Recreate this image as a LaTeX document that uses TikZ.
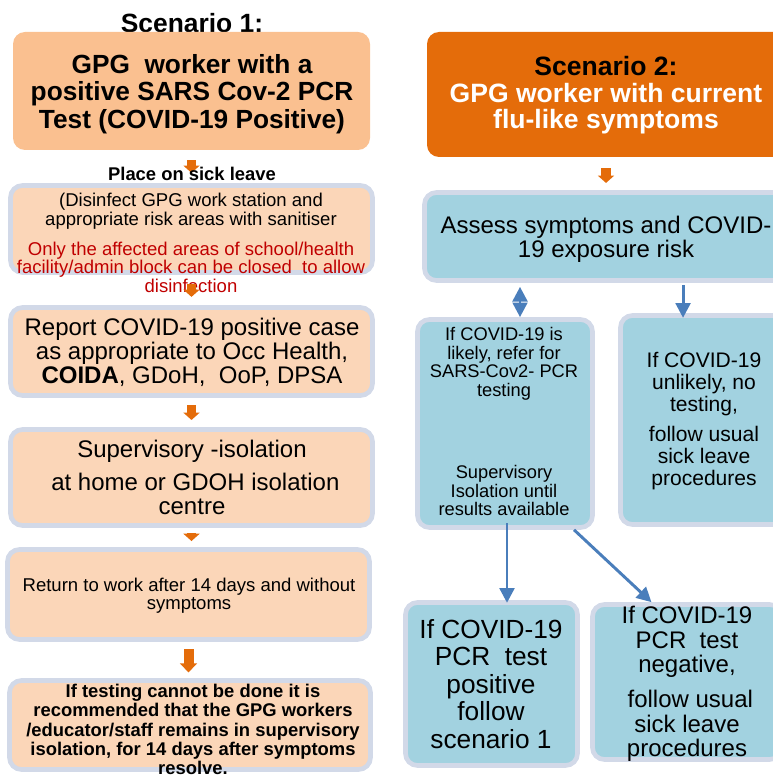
\documentclass[tikz,border=0pt]{standalone}
\usepackage{fontspec}
\setmainfont{Liberation Sans}
\usetikzlibrary{arrows.meta,positioning,calc}
\definecolor{peachlt}{HTML}{FAC090}
\definecolor{peach}{HTML}{FBD6B8}
\definecolor{rimblue}{HTML}{D2D9E8}
\definecolor{flame}{HTML}{E46C0A}
\definecolor{skyfill}{HTML}{A2D2E0}
\definecolor{linkblue}{HTML}{4A7EBB}
\definecolor{alertred}{HTML}{C00000}

\begin{document}
\begin{tikzpicture}[x=0.75pt,y=-0.75pt,
  card/.style 2 args={rounded corners=9pt,minimum width=#1*0.75pt,minimum height=#2*0.75pt,inner sep=0pt},
  pcard/.style 2 args={card={#1}{#2},fill=peach,draw=rimblue,line width=3.5pt},
  bcard/.style 2 args={card={#1}{#2},fill=skyfill,draw=rimblue,line width=3.5pt},
  txt/.style={anchor=north,inner sep=0pt,align=center},
  oarr/.style={draw=flame,line width=7pt,>={Triangle[width=12pt,length=5.5pt]},->},
  barr/.style={draw=linkblue,fill=linkblue,line width=2.2pt,>={Triangle[width=11pt,length=11pt]}}]
\useasboundingbox (0,0) rectangle (773,777);

% scenario 1
\node[txt,font=\bfseries\fontsize{19.8}{20}\selectfont] (title1) at (192,13) {Scenario 1:};
\node[card={357}{118},fill=peachlt] (b1) at (191.5,91) {};
\node[txt,font=\bfseries\fontsize{19.7}{20.6}\selectfont] (b1t) at (192,54)
  {GPG\ \ worker with a\\positive SARS Cov-2 PCR\\Test (COVID-19 Positive)};
\node[pcard={362}{87}] (b2) at (191.5,229) {};
\node[pcard={362}{88}] (b3) at (191.5,351.5) {};
\node[pcard={362}{96}] (b4) at (191.5,477.5) {};
\node[pcard={362}{90}] (b5) at (188.5,594.5) {};
\node[pcard={361}{89}] (b6) at (190,725) {};

\draw[oarr,shorten <=7.5pt,shorten >=7.7pt] (b1) -- (b2);
\node[txt,font=\bfseries\fontsize{13.8}{14}\selectfont] (sick) at (192,167) {Place on sick leave};
\node[txt,font=\fontsize{13.9}{13.9}\selectfont] (b2t) at (191,193)
  {(Disinfect GPG work station and\\appropriate risk areas with sanitiser\\[8.6pt]
   \textcolor{alertred}{Only the affected areas of school/health}\\
   \textcolor{alertred}{facility/admin block can be closed\ \ to allow}\\
   \textcolor{alertred}{disinfection}};
\node[txt,font=\fontsize{18}{18}\selectfont] (b3t) at (192,318)
  {Report COVID-19 positive case\\as appropriate to Occ Health,\\\textbf{COIDA}, GDoH,\ \ OoP, DPSA};
\node[txt,font=\fontsize{18}{17.6}\selectfont] (b4t) at (192,440)
  {Supervisory -isolation\\[7.1pt]\ at home or GDOH isolation\\centre};
\node[txt,font=\fontsize{13.9}{13.5}\selectfont] (b5t) at (189,578)
  {Return to work after 14 days and without\\symptoms};
\node[txt,font=\bfseries\fontsize{13.8}{14.4}\selectfont] (b6t) at (193,684)
  {If testing cannot be done it is\\recommended that the GPG workers\\/educator/staff remains in supervisory\\isolation, for 14 days after symptoms\\resolve.};

\draw[oarr,shorten <=6.9pt,shorten >=6.2pt] (b2) -- (b3);
\draw[oarr,shorten <=5.4pt,shorten >=5.4pt] (b3) -- (b4);
\draw[oarr,shorten <=4pt,shorten >=4.6pt] (b4.south) -- (b4.south |- b5.north);
\draw[oarr,line width=7.5pt,>={Triangle[width=12.5pt,length=6.75pt]},shorten <=5.4pt,shorten >=4.3pt]
  (b5.south) -- (b5.south |- b6.north);

% scenario 2
\node[card={358}{125},fill=flame] (s2) at (606,94.5) {};
\node[txt,font=\bfseries\fontsize{19.9}{19.9}\selectfont] (s2t) at (606,56)
  {Scenario 2:\\\textcolor{white}{GPG worker with current}\\\textcolor{white}{flu-like symptoms}};
\node[bcard={363}{88}] (assess) at (606,236.5) {};
\node[txt,font=\fontsize{18}{18}\selectfont] (assesst) at (606,216)
  {Assess symptoms and COVID-\\19 exposure risk};
\node[bcard={175}{208}] (likely) at (505,423.5) {};
\node[txt,font=\fontsize{13.7}{14}\selectfont] (likelyt) at (504,327)
  {If COVID-19 is\\likely, refer for\\SARS-Cov2- PCR\\testing\\[47.5pt]Supervisory\\Isolation until\\results available};
\node[bcard={168}{209}] (unlikely) at (704.5,420) {};
\node[txt,font=\fontsize{15.8}{16.5}\selectfont] (unlikelyt) at (704,352)
  {If COVID-19\\unlikely, no\\testing,\\[6pt]follow usual\\sick leave\\procedures};
\node[bcard={172}{163}] (positive) at (491.5,684) {};
\node[txt,font=\fontsize{19.7}{20.6}\selectfont] (positivet) at (491,619)
  {If COVID-19\\PCR\ \ test\\positive\\follow\\scenario 1};
\node[bcard={189}{155}] (negative) at (687,682) {};
\node[txt,font=\fontsize{18}{18.4}\selectfont] (negativet) at (687,606)
  {If COVID-19\\PCR\ \ test\\negative,\\[7.9pt]\ follow usual\\sick leave\\procedures};

\draw[oarr,shorten <=8.25pt,shorten >=5.4pt] (s2) -- (assess);
\draw[barr,<->,shorten <=3pt] ([xshift=11.25pt]likely.north |- assess.south) -- ([xshift=11.25pt]likely.north);
\draw[barr,->,shorten <=1.5pt,shorten >=-3.5pt] ([xshift=-16.1pt]unlikely.north |- assess.south) -- ([xshift=-16.1pt]unlikely.north);
\draw[barr,->,shorten <=-5pt,shorten >=-2pt] ([xshift=1.5pt]likely.south) -- ([xshift=1.5pt]likely.south |- positive.north);
\draw[barr,->] (likely.-57) -- (negative.114);
\end{tikzpicture}
\end{document}
